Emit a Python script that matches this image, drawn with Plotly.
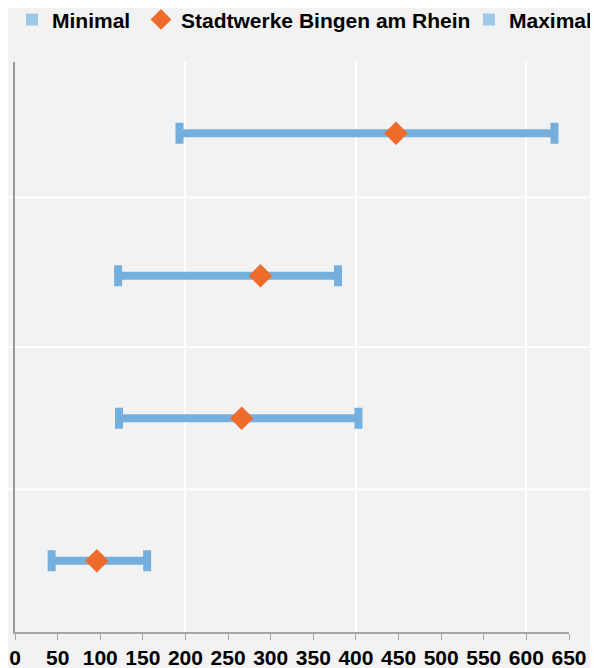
import plotly.graph_objects as go

rows = [0, 1, 2, 3]  # bottom to top
minimal = [43, 122, 121, 193]
stadtwerke = [96, 266, 288, 447]
maximal = [155, 403, 379, 633]
separators = [0.5, 1.5, 2.55]
x_ticks = list(range(0, 651, 50))
grid_x = [200, 400, 600]

BAR = "#74AFDD"
LEG_BLUE = "#9DC8E8"
ORANGE = "#EE6B2B"
BG = "#F2F2F2"
FONT = "Liberation Sans"
FS = 21

fig = go.Figure()

# range bars
for r, lo, hi in zip(rows, minimal, maximal):
    fig.add_trace(go.Scatter(x=[lo, hi], y=[r, r], mode="lines",
                             line=dict(color=BAR, width=8),
                             showlegend=False, hoverinfo="skip"))

# end caps
fig.add_trace(go.Scatter(x=minimal, y=rows, mode="markers",
                         marker=dict(symbol="line-ns", size=15,
                                     line=dict(color=BAR, width=8)),
                         showlegend=False, name="Minimal"))
fig.add_trace(go.Scatter(x=maximal, y=rows, mode="markers",
                         marker=dict(symbol="line-ns", size=15,
                                     line=dict(color=BAR, width=8)),
                         showlegend=False, name="Maximal"))
fig.add_trace(go.Scatter(x=stadtwerke, y=rows, mode="markers",
                         marker=dict(symbol="diamond", size=18, color=ORANGE),
                         showlegend=False, name="Stadtwerke Bingen am Rhein"))

# legend entries (each in its own legend for exact placement)
fig.add_trace(go.Scatter(x=[None], y=[None], mode="markers", name="Minimal",
                         legend="legend",
                         marker=dict(symbol="square", size=12, color=LEG_BLUE)))
fig.add_trace(go.Scatter(x=[None], y=[None], mode="markers",
                         name="Stadtwerke Bingen am Rhein", legend="legend2",
                         marker=dict(symbol="diamond", size=17, color=ORANGE)))
fig.add_trace(go.Scatter(x=[None], y=[None], mode="markers", name="Maximal",
                         legend="legend3",
                         marker=dict(symbol="square", size=12, color=LEG_BLUE)))

# invisible trace on second x axis for gridlines
fig.add_trace(go.Scatter(x=grid_x, y=[None]*len(grid_x), xaxis="x2",
                         showlegend=False, hoverinfo="skip"))

for s in separators:
    fig.add_shape(type="line", xref="paper", yref="y", x0=-0.03, x1=1.06,
                  y0=s, y1=s, line=dict(color="white", width=2), layer="below")

leg_common = dict(orientation="h", yref="paper", y=1.11, yanchor="top",
                  xref="container", xanchor="left",
                  font=dict(family=FONT, size=FS, color="#000000", weight="bold"),
                  itemwidth=30, bgcolor="rgba(0,0,0,0)", borderwidth=0)

fig.update_layout(
    width=590, height=660,
    paper_bgcolor=BG, plot_bgcolor=BG,
    margin=dict(l=7, r=29, t=54, b=36, autoexpand=False),
    font=dict(family=FONT, size=FS, color="#000000"),
    showlegend=True,
    legend=dict(x=4/590, **leg_common),
    legend2=dict(x=133/590, **leg_common),
    legend3=dict(x=461/590, **leg_common),
    xaxis=dict(range=[0, 650], tickvals=x_ticks, showgrid=False,
               showline=True, linecolor="#A6A6A6", linewidth=1.5,
               ticks="outside", ticklen=6, tickcolor="#A6A6A6",
               tickfont=dict(family=FONT, size=FS, color="#000000", weight="bold"),
               zeroline=False, fixedrange=True, automargin=False),
    xaxis2=dict(range=[0, 650], overlaying="x", tickvals=grid_x,
                showgrid=True, gridcolor="white", gridwidth=2,
                showticklabels=False, ticks="", showline=False, zeroline=False),
    yaxis=dict(range=[-0.5, 3.5], showgrid=False, showticklabels=False,
               showline=True, linecolor="#999999", linewidth=1.5,
               zeroline=False, ticks="", automargin=False),
)

fig.write_html("out.html")
